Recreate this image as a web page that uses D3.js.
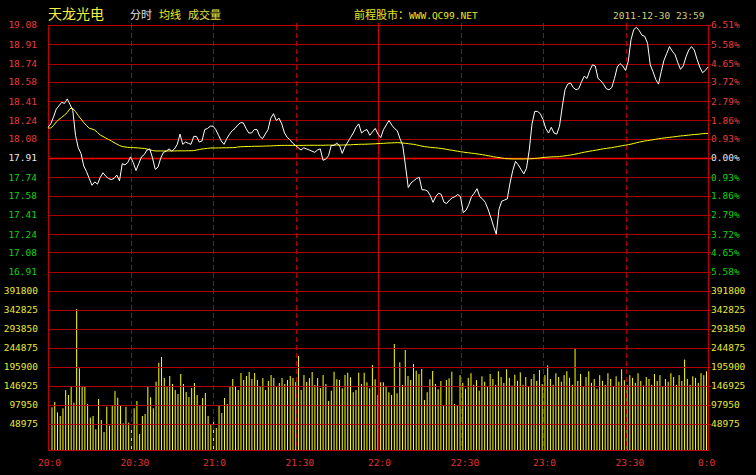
<!DOCTYPE html>
<html><head><meta charset="utf-8">
<script src="https://cdn.jsdelivr.net/npm/d3@7"></script>
<style>html,body{margin:0;padding:0;background:#000;}svg{display:block}</style>
</head><body>
<script>
const stockName = "天龙光电";
const headerTabs = ["分时", "均线", "成交量"];
const siteText = ["前程股市：", "WWW.QC99.NET"];
const dateText = "2011-12-30 23:59";
const prevClose = 17.91;
const timeLabels = ["20:0","20:30","21:0","21:30","22:0","22:30","23:0","23:30","0:0"];
const priceTicks = [19.08,18.91,18.74,18.58,18.41,18.24,18.08,17.91,17.74,17.58,17.41,17.24,17.08,16.91];
const pctTicks = ["6.51%","5.58%","4.65%","3.72%","2.79%","1.86%","0.93%","0.00%","0.93%","1.86%","2.79%","3.72%","4.65%","5.58%"];
const volTicks = [391800,342825,293850,244875,195900,146925,97950,48975];

const prices = [
18.18,18.21,18.27,18.34,18.37,18.40,18.39,18.43,18.38,18.33,
18.11,18.00,17.95,17.84,17.79,17.73,17.67,17.70,17.68,17.74,
17.78,17.75,17.73,17.72,17.73,17.76,17.71,17.86,17.85,17.87,
17.92,17.87,17.80,17.86,17.92,17.94,17.98,17.99,17.91,17.81,
17.83,17.91,17.96,17.97,17.99,17.97,17.99,18.03,18.12,18.03,
18.05,18.04,18.03,18.10,18.10,18.05,18.06,18.16,18.17,18.19,
18.19,18.16,18.11,18.06,18.03,18.08,18.12,18.15,18.17,18.20,
18.22,18.22,18.17,18.13,18.13,18.16,18.16,18.10,18.08,18.12,
18.16,18.26,18.30,18.24,18.26,18.21,18.13,18.09,18.07,18.04,
18.02,18.00,17.98,18.00,17.99,17.98,17.97,17.96,17.98,17.99,
17.89,17.90,17.93,18.02,18.02,18.04,18.02,17.95,18.01,18.05,
18.09,18.13,18.18,18.21,18.13,18.15,18.16,18.11,18.14,18.17,
18.12,18.09,18.16,18.20,18.24,18.20,18.17,18.15,18.08,18.02,
17.84,17.65,17.69,17.71,17.73,17.74,17.63,17.63,17.62,17.58,
17.52,17.57,17.60,17.59,17.52,17.51,17.54,17.56,17.57,17.59,
17.57,17.43,17.45,17.50,17.57,17.60,17.64,17.57,17.55,17.52,
17.46,17.39,17.31,17.24,17.46,17.53,17.54,17.55,17.69,17.80,
17.88,17.85,17.81,17.77,17.82,17.98,18.21,18.32,18.32,18.30,
18.25,18.17,18.13,18.18,18.13,18.12,18.19,18.36,18.51,18.56,
18.57,18.53,18.51,18.52,18.58,18.63,18.61,18.68,18.73,18.72,
18.61,18.59,18.56,18.52,18.51,18.53,18.61,18.71,18.74,18.72,
18.68,18.76,18.95,19.04,19.06,19.03,18.99,18.98,18.92,18.73,
18.67,18.60,18.56,18.67,18.77,18.83,18.89,18.85,18.82,18.75,
18.69,18.72,18.80,18.86,18.89,18.86,18.78,18.71,18.66,18.68,
18.71];

const avgPrices = [
18.174,18.174,18.196,18.227,18.249,18.268,18.288,18.310,18.345,18.347,
18.319,18.284,18.253,18.222,18.196,18.171,18.165,18.156,18.134,18.112,
18.099,18.086,18.073,18.060,18.046,18.033,18.020,18.011,18.007,18.004,
18.002,18.001,18.000,17.998,17.996,17.994,17.989,17.982,17.976,17.972,
17.972,17.972,17.972,17.972,17.972,17.972,17.972,17.973,17.973,17.973,
17.973,17.974,17.974,17.975,17.980,17.985,17.989,17.992,17.995,17.998,
17.998,17.998,17.999,17.999,18.000,18.000,18.001,18.001,18.002,18.007,
18.009,18.010,18.011,18.011,18.012,18.013,18.013,18.014,18.014,18.015,
18.016,18.016,18.018,18.019,18.020,18.021,18.021,18.021,18.021,18.021,
18.021,18.021,18.021,18.021,18.022,18.022,18.022,18.022,18.022,18.022,
18.022,18.023,18.023,18.023,18.024,18.024,18.024,18.024,18.025,18.026,
18.026,18.028,18.029,18.030,18.031,18.031,18.032,18.033,18.034,18.035,
18.037,18.038,18.039,18.041,18.042,18.043,18.044,18.045,18.044,18.042,
18.039,18.036,18.033,18.030,18.025,18.020,18.014,18.010,18.007,18.004,
18.001,18.000,17.997,17.994,17.990,17.986,17.981,17.978,17.973,17.970,
17.965,17.962,17.958,17.956,17.952,17.950,17.946,17.943,17.939,17.935,
17.930,17.926,17.921,17.917,17.914,17.910,17.906,17.904,17.903,17.902,
17.902,17.902,17.902,17.902,17.903,17.903,17.904,17.906,17.908,17.911,
17.914,17.916,17.918,17.920,17.921,17.921,17.923,17.926,17.929,17.933,
17.936,17.941,17.945,17.950,17.956,17.961,17.965,17.970,17.974,17.978,
17.982,17.987,17.991,17.994,17.998,18.001,18.006,18.010,18.015,18.019,
18.023,18.027,18.032,18.038,18.044,18.050,18.055,18.060,18.063,18.067,
18.071,18.075,18.079,18.083,18.086,18.089,18.092,18.095,18.097,18.101,
18.104,18.106,18.109,18.111,18.114,18.117,18.118,18.121,18.124,18.126,
18.127];

const volumes = [
92000,106000,79000,69600,89400,136600,123700,146900,103900,345400,
192500,145100,145100,100500,65300,69600,35300,113400,59300,28400,
93600,44600,97900,134000,116800,97900,50800,93600,52300,33500,
89400,108300,23200,69600,74700,145100,117800,89400,158000,207000,
221700,167500,146900,172700,152100,136600,126300,177900,152100,131500,
118600,141800,154700,123700,97900,116000,128900,69600,49000,59300,
38700,95400,77300,116000,100500,146900,165000,146900,136600,180400,
162400,172700,183000,165000,180400,162400,146900,167500,136600,159800,
175300,167500,146900,154700,167500,152100,162400,172700,167500,157200,
224300,136600,175300,157200,167500,183000,149500,167500,141800,175300,
152100,108300,134800,183800,164200,162400,141000,175300,181200,169300,
130700,136600,181200,152100,181200,156400,141000,201000,164200,123700,
156400,156400,146900,130700,123700,255200,128100,208000,149500,239700,
172700,162400,203600,186400,177900,190700,110800,130700,164200,185600,
152100,138400,159800,97900,162400,166800,183800,100500,97900,175000,
155000,140000,168000,180000,150000,162000,135000,172000,158000,145000,
178000,165000,150000,185000,170000,155000,190000,168000,148000,176000,
160000,182000,150000,170000,145000,165000,178000,160000,188000,152000,
175000,200000,165000,150000,180000,170000,158000,175000,185000,168000,
150000,245000,160000,178000,145000,170000,185000,155000,165000,140000,
175000,160000,150000,180000,165000,145000,172000,158000,190000,162000,
150000,175000,168000,155000,180000,160000,148000,170000,165000,150000,
178000,160000,175000,145000,165000,158000,180000,170000,150000,175000,
160000,215000,165000,150000,172000,168000,155000,180000,175000,185000];

const W = 756, H = 475;
const L = 48, R = 708, T = 25, MID = 291, VB = 443, B = 450;
const mono = "'DejaVu Sans Mono', monospace";
const cjk = "'Noto Sans CJK SC', sans-serif";

const svg = d3.select("body").append("svg").attr("width", W).attr("height", H)
  .style("background", "#000");

const x = d3.scaleLinear().domain([0, 240]).range([L, R]);
const yP = d3.scaleLinear().domain([2 * prevClose - priceTicks[0], priceTicks[0]]).range([MID, T]);
const yV = d3.scaleLinear().domain([0, volTicks[0]]).range([VB, MID]);
const xBar = d3.scaleLinear().domain([0, volumes.length - 1]).range([52, 706.5]);
const crisp = v => Math.round(v) + 0.5;

// volume bars
svg.append("g").selectAll("rect").data(volumes).join("rect")
  .attr("x", (d, i) => xBar(i) - 0.5)
  .attr("width", 1)
  .attr("y", d => yV(d))
  .attr("height", d => B - yV(d))
  .attr("fill", "#ffff00");

// horizontal grid - price
const g = svg.append("g");
priceTicks.forEach((p, i) => {
  const yy = crisp(yP(p));
  const isMid = Math.abs(p - prevClose) < 1e-6;
  g.append("line").attr("x1", L).attr("x2", R + 3).attr("y1", yy).attr("y2", yy)
    .attr("stroke", isMid ? "#ff0000" : "#a80000").attr("stroke-width", isMid ? 1.6 : 1);
});
volTicks.forEach(v => {
  const yy = crisp(yV(v));
  g.append("line").attr("x1", L).attr("x2", R + 3).attr("y1", yy).attr("y2", yy)
    .attr("stroke", "#b00000").attr("stroke-width", 1);
});

// vertical grid
for (let m = 30; m < 240; m += 30) {
  const xx = crisp(x(m));
  const solid = m === 120;
  g.append("line").attr("x1", xx).attr("x2", xx).attr("y1", T).attr("y2", B)
    .attr("stroke", solid ? "#d00000" : "#b00000")
    .attr("stroke-dasharray", solid ? null : "5,3");
  g.append("line").attr("x1", xx).attr("x2", xx).attr("y1", T - 2).attr("y2", T)
    .attr("stroke", "#c00000");
}

// border
svg.append("rect").attr("x", L + 0.5).attr("y", T + 0.5).attr("width", R - L).attr("height", B - T)
  .attr("fill", "none").attr("stroke", "#c00000");

// lines
const line = d3.line().x((d, i) => x(i)).y(d => yP(d));
svg.append("path").datum(avgPrices).attr("d", line).attr("fill", "none")
  .attr("stroke", "#ffff00").attr("stroke-width", 1);
svg.append("path").datum(prices).attr("d", line).attr("fill", "none")
  .attr("stroke", "#ffffff").attr("stroke-width", 1);

// axis labels
const colorFor = p => Math.abs(p - prevClose) < 1e-6 ? "#e8e8e8" : (p > prevClose ? "#e83c3c" : "#10d010");
priceTicks.forEach((p, i) => {
  const yy = yP(p);
  svg.append("text").attr("x", 37).attr("y", yy).attr("dy", "0.36em").attr("text-anchor", "end")
    .attr("font-family", mono).attr("font-size", "9.5px").attr("fill", colorFor(p)).text(p.toFixed(2));
  svg.append("text").attr("x", 711).attr("y", yy).attr("dy", "0.36em").attr("text-anchor", "start")
    .attr("font-family", mono).attr("font-size", "9.5px").attr("fill", colorFor(p)).text(pctTicks[i]);
});
volTicks.forEach(v => {
  const yy = yV(v);
  svg.append("text").attr("x", 38).attr("y", yy).attr("dy", "0.36em").attr("text-anchor", "end")
    .attr("font-family", mono).attr("font-size", "9.5px").attr("fill", "#e8e838").text(v);
  svg.append("text").attr("x", 711).attr("y", yy).attr("dy", "0.36em").attr("text-anchor", "start")
    .attr("font-family", mono).attr("font-size", "9.5px").attr("fill", "#e8e838").text(v);
});
timeLabels.forEach((t, i) => {
  svg.append("text").attr("x", x(i * 30) - 10).attr("y", 466).attr("text-anchor", "start")
    .attr("font-family", mono).attr("font-size", "9.5px").attr("fill", "#e03030").text(t);
});

// header
svg.append("text").attr("x", 48).attr("y", 19).attr("font-family", cjk).attr("font-size", "14px")
  .attr("fill", "#f4f440").text(stockName);
const tabColors = ["#e0e0e0", "#f0f020", "#e0e040"];
const tabX = [130, 159, 188];
headerTabs.forEach((t, i) => {
  svg.append("text").attr("x", tabX[i]).attr("y", 18.5).attr("font-family", cjk).attr("font-size", "11px")
    .attr("fill", tabColors[i]).text(t);
});
const site = svg.append("text").attr("x", 354).attr("y", 18.5).attr("fill", "#e8e820");
site.append("tspan").attr("font-family", cjk).attr("font-size", "11px").text(siteText[0]);
site.append("tspan").attr("font-family", mono).attr("font-size", "9.5px").text(siteText[1]);
svg.append("text").attr("x", 613).attr("y", 19).attr("font-family", mono).attr("font-size", "9.5px")
  .attr("fill", "#d0d070").text(dateText);
</script>
</body></html>
